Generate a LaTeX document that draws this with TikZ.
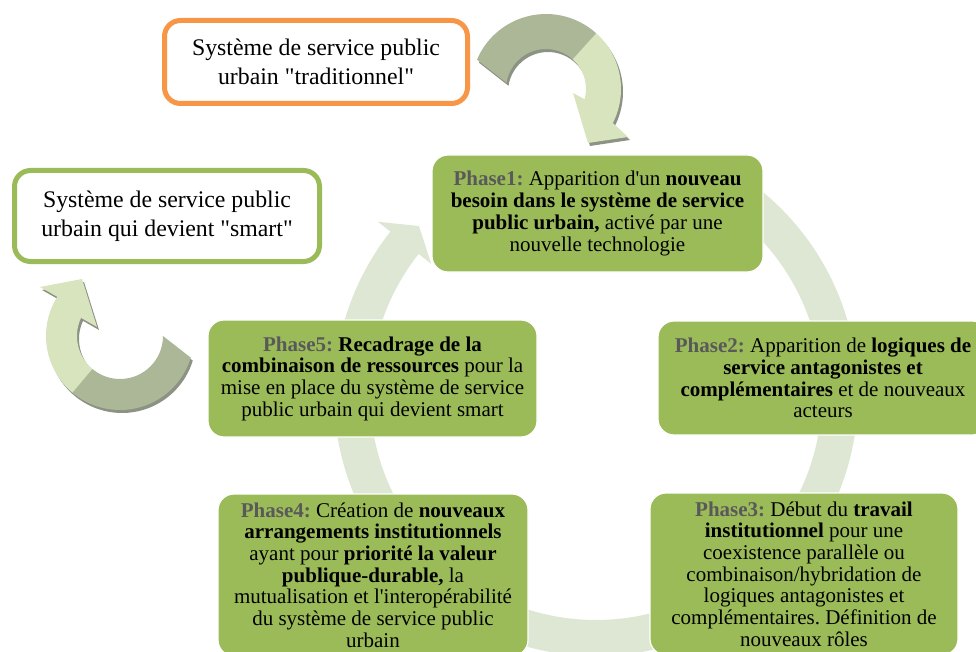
\documentclass[tikz,border=0pt]{standalone}
\usepackage{fontspec}
\setmainfont{Liberation Serif}[Ligatures=TeXOff]
\usetikzlibrary{calc}
\frenchspacing
\definecolor{phgreen}{HTML}{9BBB59}
\definecolor{ringgreen}{HTML}{DEE7D3}
\definecolor{sysorange}{HTML}{F79646}
\definecolor{labgray}{HTML}{595959}
\definecolor{darkarr}{HTML}{ABB797}
\definecolor{lightarr}{HTML}{D7E4BD}
\definecolor{shadegray}{HTML}{8C9284}

\newcommand{\ph}[1]{\textbf{\textcolor{labgray}{Phase#1:}}}
% ring piece from angle #1 to angle #2 (clockwise), head at #2
\newcommand{\cycseg}[2]{%
 \fill[ringgreen] (#1:226) arc[start angle=#1,end angle=#2+5.2,radius=226]
  -- (#2+5.2:210) -- (#2:244) -- (#2+5.2:278) -- (#2+5.2:262)
  arc[start angle=#2+5.2,end angle=#1,radius=262] -- cycle;}
% the two curved 3d arrows
\newcommand{\toparr}[2]{%
 \fill[#1] (171:40) arc[start angle=171,end angle=48,radius=40]
  -- (48:75) arc[start angle=48,end angle=157,radius=75] -- cycle;
 \fill[#2] (48:40) arc[start angle=48,end angle=-15,radius=40]
  -- (27,-4) -- (42,-54) -- (82,-48) -- (-27:75)
  arc[start angle=-27,end angle=48,radius=75] -- cycle;}
\newcommand{\leftarr}[2]{%
 \fill[#1] (0:43) arc[start angle=0,end angle=-130,radius=43]
  -- (-130:74) arc[start angle=-130,end angle=-17,radius=74] -- cycle;
 \fill[#2] (-130:43) arc[start angle=-130,end angle=-205,radius=43]
  -- (-23,9) -- (-38,57) -- (-80,49) -- (-212:74)
  arc[start angle=-212,end angle=-130,radius=74] -- cycle;}

\begin{document}
\begin{tikzpicture}[x=1pt,y=1pt,
 ph/.style={fill=phgreen,draw=white,line width=1.2pt,rounded corners=16pt,align=center,
  font=\fontsize{21}{21.7}\selectfont,inner sep=0pt},
 sys/.style={fill=white,line width=5pt,rounded corners=16pt,align=center,
  font=\fontsize{23.8}{29}\selectfont,inner sep=0pt}]
\useasboundingbox (0,0) rectangle (976,-652);

% cycle arrows
\begin{scope}[shift={(596,-394)}]
\cycseg{58}{5}
\cycseg{-3}{-40}
\cycseg{-55}{-125}
\cycseg{-140}{-182}
\cycseg{172}{136.5}
\end{scope}

% curved arrows next to the system boxes
\begin{scope}[shift={(548,-92)}]\toparr{shadegray}{shadegray}\end{scope}
\begin{scope}[shift={(546,-89)}]\toparr{darkarr}{lightarr}\end{scope}
\begin{scope}[shift={(122,-339)}]\leftarr{shadegray}{shadegray}\end{scope}
\begin{scope}[shift={(120,-336)}]\leftarr{darkarr}{lightarr}\end{scope}

% system boxes
\node[sys,draw=sysorange,minimum width=303pt,minimum height=83pt] (trad) at (316,-62)
 {Système de service public\\urbain "traditionnel"};
\node[sys,draw=phgreen,minimum width=305pt,minimum height=91pt] (smart) at (167,-216)
 {Système de service public\\urbain qui devient "smart"};

% phases
\node[ph,minimum width=331pt,minimum height=117pt] (p1) at (597.5,-213.5)
 {\ph1 Apparition d'un \textbf{nouveau}\\\textbf{besoin dans le système de service}\\
  \textbf{public urbain,} activé par une\\nouvelle technologie};
\node[ph,minimum width=330pt,minimum height=114pt] (p2) at (823,-378)
 {\ph2 Apparition de \textbf{logiques de}\\\textbf{service antagonistes et}\\
  \textbf{complémentaires} et de nouveaux\\acteurs};
\node[ph,minimum width=308pt,minimum height=162pt] (p3) at (804,-574)
 {\ph3 Début du \textbf{travail}\\\textbf{institutionnel} pour une\\coexistence parallèle ou\\
  combinaison/hybridation de\\logiques antagonistes et\\complémentaires. Définition de\\nouveaux rôles};
\node[ph,minimum width=310pt,minimum height=162pt] (p4) at (373,-575)
 {\ph4 Création de \textbf{nouveaux}\\\textbf{arrangements institutionnels}\\
  ayant pour \textbf{priorité la valeur}\\\textbf{publique-durable,} la\\
  mutualisation et l'interopérabilité\\du système de service public\\urbain};
\node[ph,minimum width=329pt,minimum height=117pt] (p5) at (372.5,-378.5)
 {\ph5 \textbf{Recadrage de la}\\\textbf{combinaison de ressources} pour la\\
  mise en place du système de service\\public urbain qui devient smart};
\end{tikzpicture}
\end{document}
